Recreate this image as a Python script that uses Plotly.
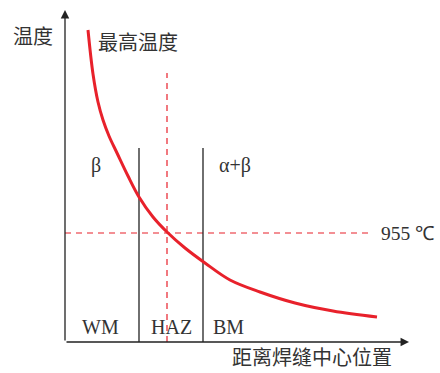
import plotly.graph_objects as go

# Peak temperature profile across the weld (schematic units)
distance = [23, 28, 33, 38, 44, 52, 63, 74, 88, 102, 120, 140, 165, 195, 230, 268, 312]
peak_temp = [312, 268, 240, 222, 206, 189, 166, 145, 125, 110, 94, 79, 62, 50, 39, 31, 25]

# Zone boundaries and the beta-transus reference
zone_bounds = [74, 138]
zone_top = 194
haz_mid = 102
haz_mid_top = 269
transus_temp = 109
transus_end = 304
transus_label = "955 ℃"

zone_labels = ["WM", "HAZ", "BM"]
zone_label_x = [35, 106, 163]
phase_labels = ["β", "α+β"]
phase_label_x = [31, 170]

x_axis_len = 344
y_axis_len = 332

RED = "#e8212b"
INK = "#222222"
TXT = "#333333"
LATIN = "Liberation Serif, Times New Roman, serif"
CJK = "Noto Sans CJK SC"

fig = go.Figure()

# reference lines
fig.add_trace(go.Scatter(x=[0, transus_end], y=[transus_temp, transus_temp], mode="lines",
                         line=dict(color=RED, width=1.2, dash="6px,5px"), hoverinfo="skip"))
fig.add_trace(go.Scatter(x=[haz_mid, haz_mid], y=[0, haz_mid_top], mode="lines",
                         line=dict(color=RED, width=1.2, dash="6px,5px"), hoverinfo="skip"))
for b in zone_bounds:
    fig.add_trace(go.Scatter(x=[b, b], y=[0, zone_top], mode="lines",
                             line=dict(color=INK, width=1.3), hoverinfo="skip"))

# temperature curve
fig.add_trace(go.Scatter(x=distance, y=peak_temp, mode="lines",
                         line=dict(color=RED, width=3, shape="spline", smoothing=1.0),
                         hoverinfo="skip"))

annotations = []
# axes with arrowheads
annotations.append(dict(x=x_axis_len, y=0, ax=0, ay=0, xref="x", yref="y", axref="x", ayref="y",
                        text="", showarrow=True, arrowhead=2, arrowsize=1.3, arrowwidth=1.3,
                        arrowcolor=INK))
annotations.append(dict(x=0, y=y_axis_len, ax=0, ay=0, xref="x", yref="y", axref="x", ayref="y",
                        text="", showarrow=True, arrowhead=2, arrowsize=1.3, arrowwidth=1.3,
                        arrowcolor=INK))

def label(x, y, text, font, size, xanchor="center", yanchor="middle"):
    annotations.append(dict(x=x, y=y, xref="x", yref="y", text=text, showarrow=False,
                            xanchor=xanchor, yanchor=yanchor,
                            font=dict(family=font, size=size, color=TXT)))

label(-32, 307, "温度", CJK, 20)
label(31, 301, "最高温度", CJK, 20, xanchor="left")
label(247, -30.5, "距离焊缝中心位置", CJK, 20, yanchor="bottom")
for x, t in zip(phase_label_x, phase_labels):
    label(x, 177, t, LATIN, 20)
for x, t in zip(zone_label_x, zone_labels):
    label(x, 15, t, LATIN, 20)
label(314, transus_temp, transus_label, LATIN, 19.5, xanchor="left")

fig.update_layout(
    width=440, height=373,
    margin=dict(l=0, r=0, t=0, b=0),
    paper_bgcolor="white", plot_bgcolor="white",
    showlegend=False,
    xaxis=dict(range=[-65, 375], visible=False, fixedrange=True),
    yaxis=dict(range=[-31, 342], visible=False, fixedrange=True),
    annotations=annotations,
)

fig.write_html("out.html")
